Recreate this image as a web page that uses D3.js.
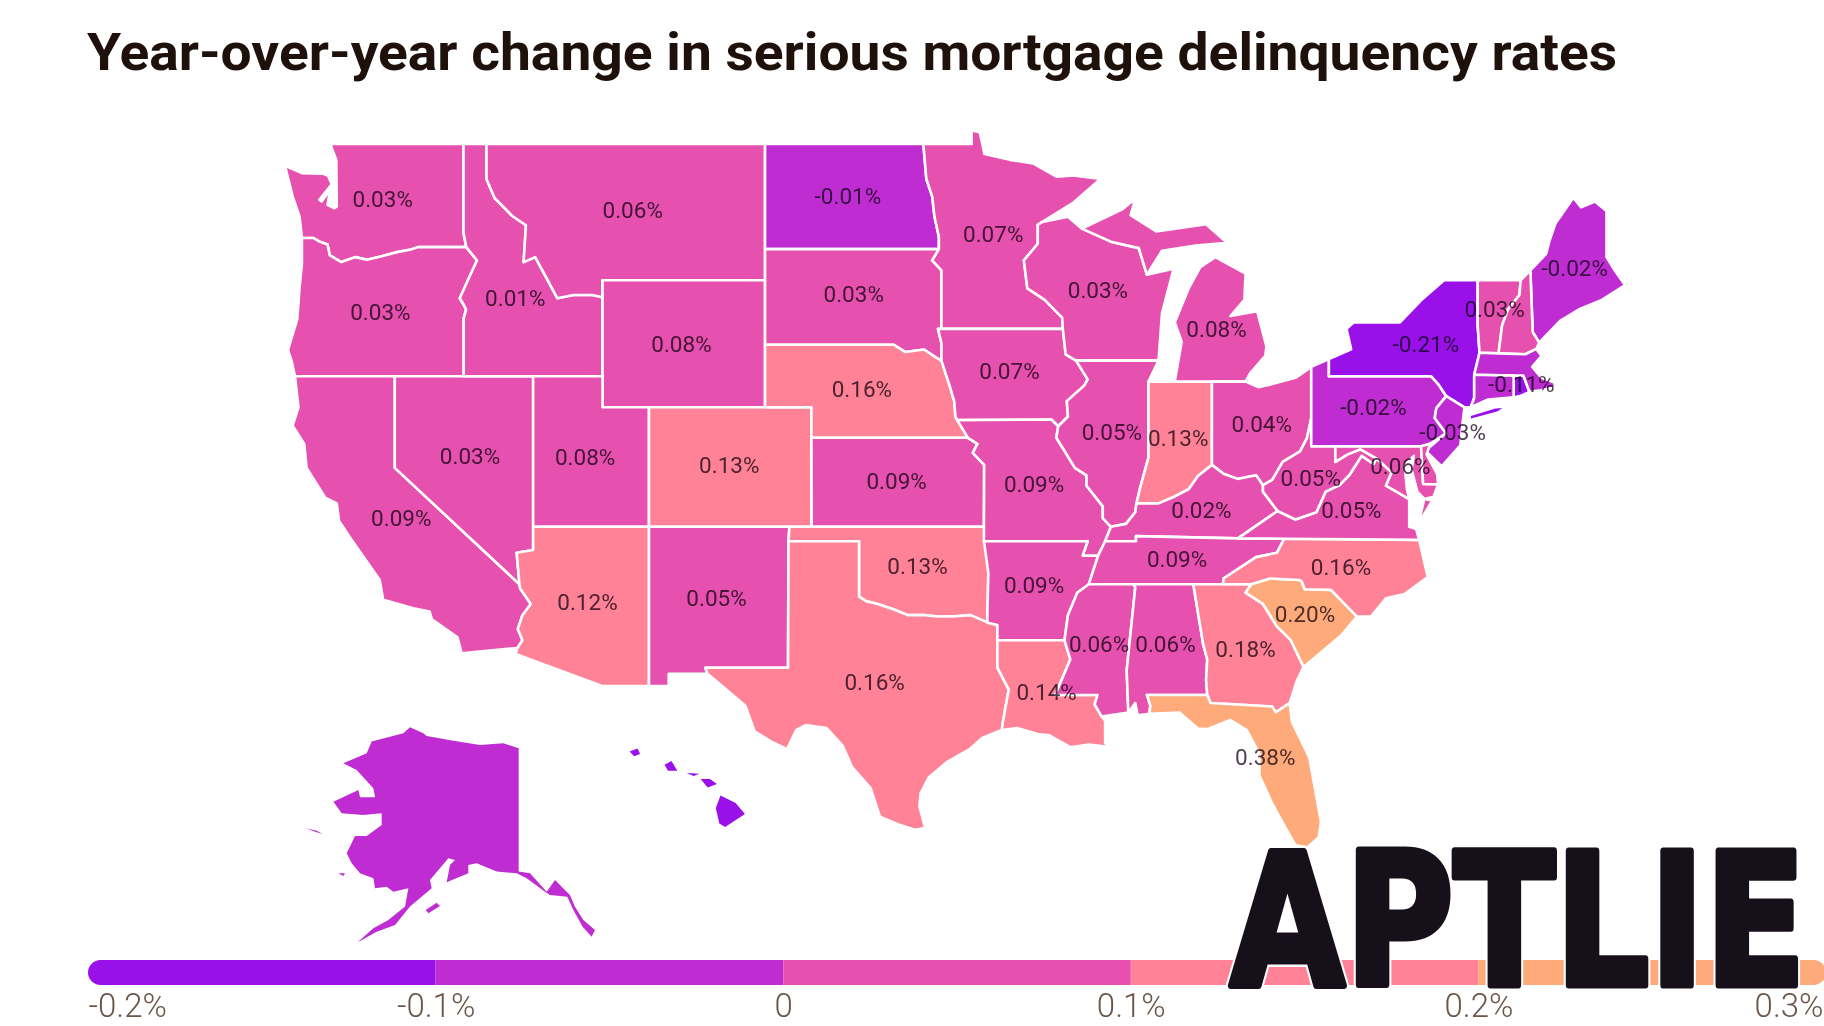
<!DOCTYPE html>
<html>
<head>
<meta charset="utf-8">
<script src="https://cdn.jsdelivr.net/npm/d3@7"></script>
<style>
  html, body { margin: 0; background: #fff; }
  svg { display: block; }
  .state { stroke: #fff; stroke-width: 2.6; stroke-linejoin: round; }
  .inset { stroke: none; }
  .val { font-family: Roboto, sans-serif; font-size: 22.5px; fill: #4e4252; mix-blend-mode: multiply; text-anchor: middle; }
  .legend-axis text { font-family: Roboto, sans-serif; font-weight: 300; font-size: 33px; fill: #6b5548; }
</style>
</head>
<body>
<svg id="chart" width="1824" height="1026"></svg>
<script>
// ---- chart values ----
var title = "Year-over-year change in serious mortgage delinquency rates";
var legendTicks = [-0.2, -0.1, 0, 0.1, 0.2, 0.3];
var classColors = ["#9a10e8", "#bf2dd2", "#e650ae", "#ff8296", "#ffaa7a"];
var watermark = "APTLIE";

var stateCodes = ["WA","OR","CA","NV","ID","MT","WY","UT","CO","AZ","NM","ND","SD","NE","KS","OK","TX",
                  "MN","IA","MO","AR","LA","WI","IL","IN","MI","OH","KY","TN","MS","AL","GA","FL","SC",
                  "NC","VA","WV","MD","PA","NY","NJ","VT","ME","RI","NH","MA","CT","DE","AK","HI"];
var stateValues = [0.03,0.03,0.09,0.03,0.01,0.06,0.08,0.08,0.13,0.12,0.05,-0.01,0.03,0.16,0.09,0.13,0.16,
                   0.07,0.07,0.09,0.09,0.14,0.03,0.05,0.13,0.08,0.04,0.02,0.09,0.06,0.06,0.18,0.38,0.20,
                   0.16,0.05,0.05,0.06,-0.02,-0.21,-0.03,0.03,-0.02,-0.11,0.03,-0.05,-0.05,0.06,-0.05,-0.15];
// states in this list have no printed number in the picture
var unlabelled = ["NH","MA","CT","DE","AK","HI"];

// where each number sits, lon/lat
var labelAnchors = {
  WA:[-120.52,47.43],OR:[-120.62,44.02],CA:[-119.72,37.31],NV:[-116.76,39.41],ID:[-114.81,44.45],
  MT:[-109.75,47.09],WY:[-107.65,43.04],UT:[-111.8,39.37],CO:[-105.59,39.1],AZ:[-111.7,34.39],
  NM:[-106.14,34.51],ND:[-100.48,47.5],SD:[-100.23,44.59],NE:[-99.88,41.58],KS:[-98.38,38.55],
  OK:[-97.48,35.65],TX:[-99.33,31.49],MN:[-94.22,46.4],IA:[-93.52,42.16],MO:[-92.46,38.47],
  AR:[-92.46,34.96],LA:[-91.92,31.11],WI:[-89.71,44.71],IL:[-89.11,40.18],IN:[-86.25,39.99],
  MI:[-84.6,43.51],OH:[-82.65,40.46],KY:[-85.25,37.58],TN:[-86.3,35.9],MS:[-89.66,32.87],
  AL:[-86.8,32.87],GA:[-83.35,32.7],FL:[-82.5,28.69],SC:[-80.79,33.94],NC:[-79.24,35.61],
  VA:[-78.79,37.58],WV:[-80.54,38.67],MD:[-76.68,39.06],PA:[-77.84,41.0],NY:[-75.58,43.04],
  NJ:[-74.43,40.18],VT:[-72.62,44.13],ME:[-69.17,45.37],RI:[-71.47,41.76]
};

// ---- state outlines, lon/lat ----
var columbia = [[-124.0,46.27],[-123.5,46.27],[-123.2,46.15],[-122.9,46.08],[-122.8,45.75],[-122.3,45.55],[-121.7,45.7],[-121.2,45.62],[-120.6,45.72],[-119.9,45.85],[-119.3,45.93],[-119.0,46.0],[-116.92,46.0]];
var snake = [[-116.92,46.0],[-116.46,45.6],[-116.85,45.0],[-117.2,44.45],[-117.03,44.25],[-116.93,44.1],[-117.03,43.83],[-117.03,42.0]];
var bitterroot = [[-116.05,49],[-116.05,48.0],[-115.7,47.45],[-114.95,46.93],[-114.35,46.65],[-114.45,45.55],[-113.95,45.7],[-113.45,45.05],[-113.0,44.45],[-112.3,44.55],[-111.5,44.55],[-111.05,44.48]];
var redRiverN = [[-97.23,49],[-97.1,48],[-96.85,47.5],[-96.75,46.9],[-96.56,46.3],[-96.56,45.94]];
var sdEast = [[-96.56,45.94],[-96.85,45.6],[-96.45,45.3],[-96.45,43.5],[-96.6,43.5],[-96.45,43.05],[-96.45,42.5]];
var sdSouth = [[-104.05,43],[-98.5,43],[-98,42.77],[-97.2,42.85],[-96.7,42.6],[-96.45,42.5]];
var moRiver = [[-96.45,42.5],[-96.1,41.7],[-95.9,41.2],[-95.85,40.7],[-95.77,40.58]];
var redRiverS = [[-100,34.56],[-99.7,34.4],[-99.2,34.3],[-98.5,34.1],[-97.9,33.9],[-97.2,33.9],[-96.6,33.85],[-96,33.85],[-95.2,33.9],[-94.48,33.64]];
var upperMiss = [[-92.3,46.66],[-92.3,46.1],[-92.9,45.6],[-92.75,44.75],[-92,44.4],[-91.25,43.85],[-91.22,43.5],[-91.1,42.7],[-90.65,42.5]];
var iaIl = [[-90.65,42.5],[-90.15,41.9],[-90.3,41.7],[-91.05,41.2],[-91,40.7],[-91.42,40.38]];
var moIl = [[-91.42,40.38],[-91.5,40],[-90.7,39],[-90.2,38.75],[-90.2,38.4],[-89.5,37.7],[-89.5,37.3],[-89.15,37]];
var ohioW = [[-89.15,37],[-88.5,37.1],[-88.1,37.5],[-88.05,37.8]];
var ohioM = [[-88.05,37.8],[-87.1,37.8],[-86.5,38],[-85.8,38.28],[-85.4,38.73],[-84.8,39.1]];
var ohioE = [[-84.8,39.1],[-84.3,38.8],[-83.7,38.63],[-82.9,38.75],[-82.6,38.42]];
var ohioWv = [[-82.6,38.42],[-82.2,38.6],[-81.75,39.2],[-81,39.55],[-80.7,40],[-80.52,40.64]];
var lowerMiss = [[-89.7,36],[-90.1,35],[-90.6,34.7],[-91,33.9],[-91.15,33]];
var msLa = [[-91.15,33],[-90.9,32.3],[-91.55,31],[-89.73,31],[-89.85,30.65],[-89.55,30.2]];
var sabine = [[-94.04,33],[-94.04,32],[-93.55,31.2],[-93.7,30.5],[-93.8,30],[-93.85,29.7]];
var tnSouthEast = [[-84.32,35],[-84.3,35.2],[-82.9,35.95],[-82,36.1],[-81.68,36.59]];
var ncSc = [[-83.1,35],[-82.3,35.2],[-81.04,35.15],[-80.93,35.1],[-80.8,34.82],[-79.67,34.8],[-78.55,33.85]];
var savannah = [[-83.1,35],[-83.35,34.7],[-82.6,34.3],[-82,33.5],[-81.4,33],[-80.85,32.03]];
var gaFlNorth = [[-81.45,30.7],[-82.05,30.36],[-82.2,30.57],[-84.86,30.7],[-85,31]];
var chattahoochee = [[-85,31],[-85.05,31.55],[-85,32.3],[-85.18,32.87],[-85.6,35]];
var bigSandy = [[-82.6,38.42],[-82.6,38.2],[-81.97,37.54]];
var vaWv = [[-81.97,37.54],[-81.2,37.25],[-80.3,37.5],[-79.9,38.2],[-79.3,38.42],[-78.87,38.77],[-78.35,39.4],[-77.83,39.13],[-77.72,39.32]];
var potomacUp = [[-77.72,39.32],[-78.4,39.62],[-78.95,39.45],[-79.48,39.2]];
var potomacLow = [[-76.3,37.95],[-77.3,38.4],[-77.05,38.85],[-77.72,39.32]];
var delaware = [[-74.7,41.36],[-75.13,40.97],[-75.2,40.65],[-74.72,40.15],[-75.4,39.8]];
var nyPa = [[-79.76,42],[-75.35,42],[-75.05,41.75],[-74.7,41.36]];
var ctRiver = [[-71.5,45],[-71.55,44.55],[-72.05,44.1],[-72.3,43.6],[-72.45,42.73]];
function rev(a) { return a.slice().reverse(); }

var stateShapes = {
  WA:[[[-122.78,49],[-117.04,49],[-117.04,46.42]].concat(rev(columbia),[[-124.1,46.9],[-124.4,47.5],[-124.73,48.38],[-124,48.17],[-123.1,48.15],[-122.88,48.1],[-122.72,47.85],[-123.25,47.4],[-123.15,47.35],[-122.78,47.7],[-122.9,47.25],[-122.6,47.15],[-122.5,47.2],[-122.52,48.55]])],
  OR:[columbia.concat(snake.slice(1),[[-124.3,42],[-124.45,42.5],[-124.6,42.84],[-124.2,43.8],[-124.1,44.8],[-124,45.5]])],
  CA:[[[-124.3,42],[-120,42],[-120,39],[-114.63,35],[-114.6,34.85],[-114.14,34.3],[-114.5,33.9],[-114.7,33.4],[-114.5,33],[-114.72,32.72],[-117.12,32.53],[-117.3,33.1],[-118.4,33.75],[-118.5,34.03],[-119.2,34.15],[-120.5,34.45],[-120.65,35.15],[-121.9,36.6],[-122.4,37.2],[-122.5,37.8],[-123,38],[-123.8,39],[-123.9,39.8],[-124.4,40.4],[-124.15,41]]],
  NV:[[[-120,42],[-114.04,42],[-114.04,36.2],[-114.75,36.1],[-114.63,35],[-120,39]]],
  ID:[[[-117.04,49]].concat(bitterroot,[[-111.05,42]],rev(snake),[[-117.04,46.42]])],
  MT:[[[-116.05,49],[-104.05,49],[-104.05,45],[-111.05,45]].concat(rev(bitterroot).slice(0,-1))],
  WY:[[[-111.05,45],[-104.05,45],[-104.05,41],[-111.05,41]]],
  UT:[[[-114.04,42],[-111.05,42],[-111.05,41],[-109.05,41],[-109.05,37],[-114.04,37]]],
  CO:[[[-109.05,41],[-102.05,41],[-102.05,37],[-109.05,37]]],
  AZ:[[[-114.04,37],[-109.05,37],[-109.05,31.33],[-111.07,31.33],[-114.8,32.5],[-114.72,32.72],[-114.5,33],[-114.7,33.4],[-114.5,33.9],[-114.14,34.3],[-114.6,34.85],[-114.63,35],[-114.75,36.1],[-114.04,36.2]]],
  NM:[[[-109.05,37],[-103,37],[-103.04,36.5],[-103.06,32],[-106.62,32],[-106.53,31.78],[-108.2,31.78],[-108.2,31.33],[-109.05,31.33]]],
  ND:[[[-104.05,49]].concat(redRiverN,[[-104.05,45.94]])],
  SD:[[[-104.05,45.94]].concat(sdEast,rev(sdSouth))],
  NE:[sdSouth.concat(moRiver.slice(1),[[-95.31,40],[-102.05,40],[-102.05,41],[-104.05,41]])],
  KS:[[[-102.05,40],[-95.31,40],[-94.9,39.8],[-95.1,39.5],[-94.61,39.1],[-94.62,37],[-102.04,37]]],
  OK:[[[-103,37],[-94.62,37],[-94.43,35.4]].concat(rev(redRiverS),[[-100,36.5],[-103.04,36.5]])],
  TX:[[[-103.04,36.5],[-100,36.5]].concat(redRiverS,[[-94.04,33.55]],sabine,[[-94.7,29.4],[-95.2,29],[-96.2,28.5],[-97,27.9],[-97.35,27.3],[-97.4,26.8],[-97.15,25.96],[-97.6,25.9],[-98.3,26.1],[-99.1,26.4],[-99.5,27.5],[-100.3,28.3],[-100.7,29.1],[-101.4,29.77],[-102.3,29.88],[-102.7,29.7],[-103.1,28.98],[-103.8,29.27],[-104.5,29.65],[-104.9,30.6],[-106,31.4],[-106.53,31.78],[-106.62,32],[-103.06,32]])],
  MN:[[[-97.23,49],[-95.15,49],[-95.15,49.38],[-94.8,49.33],[-94.6,48.72],[-93.5,48.55],[-92.5,48.45],[-91.5,48.07],[-90.75,48.1],[-89.6,48],[-90.8,47.3],[-92.1,46.75]].concat(upperMiss.slice(0,7),[[-96.45,43.5],[-96.45,45.3],[-96.85,45.6]],[[-96.56,45.94]],rev(redRiverN).slice(1,-1))],
  IA:[[[-96.45,43.5],[-91.22,43.5],[-91.1,42.7]].concat(iaIl,[[-91.72,40.6],[-95.77,40.58]],rev(moRiver).slice(1),[[-96.45,43.05],[-96.6,43.5]])],
  MO:[[[-95.77,40.58],[-91.72,40.6]].concat(moIl,[[-89.4,36.5],[-89.7,36],[-90.37,36],[-90.15,36.5],[-94.62,36.5],[-94.62,37],[-94.61,39.1],[-95.1,39.5],[-94.9,39.8],[-95.31,40]])],
  AR:[[[-94.62,36.5],[-90.15,36.5],[-90.37,36]].concat(lowerMiss,[[-94.04,33],[-94.04,33.55],[-94.48,33.64],[-94.43,35.4]])],
  LA:[[[-94.04,33]].concat(msLa,[[-89.4,30.05],[-89.4,29.75],[-89.4,29.2],[-89.1,29.05],[-90.1,29.15],[-90.9,29.05],[-91.8,29.5],[-92.3,29.55],[-93.2,29.77]],rev(sabine).slice(0,-1))],
  WI:[[[-92.1,46.75],[-91,46.9],[-90.4,46.55],[-89.1,46.15],[-87.95,45.97],[-87.6,45.17],[-86.45,45.35],[-86.95,43.98],[-87.1,42.5]].concat(rev(upperMiss))],
  IL:[[[-90.65,42.5],[-87.1,42.5],[-87.53,41.83],[-87.53,39.35],[-87.9,38.3]].concat(rev(ohioW),rev(moIl).slice(1),rev(iaIl).slice(1))],
  IN:[[[-87.53,41.83],[-84.8,41.83]].concat(rev(ohioM),[[-87.9,38.3],[-87.53,39.35]])],
  MI:[[[-86.4,41.83],[-84.8,41.83],[-83.35,41.83],[-83.15,42.1],[-82.5,42.65],[-82.45,42.95],[-82.85,44.05],[-84,43.9],[-83.4,44.4],[-83.35,45.2],[-84.65,45.7],[-85.3,45.4],[-85.8,44.75],[-86.4,43.7],[-86.1,43.1]],
      [[-90.4,46.55],[-88.66,47.12],[-88.1,47.43],[-88.3,46.95],[-87.2,46.47],[-85.05,46.68],[-84.15,46.13],[-85.5,46.05],[-86.95,45.89],[-87.6,45.17],[-87.95,45.97],[-89.1,46.15]],
      [[-89.3,47.85],[-88.4,48.15],[-88.5,48.2],[-89.2,47.95]]],
  OH:[[[-84.8,41.83],[-83.35,41.83],[-82.8,41.65],[-82.2,41.75],[-81.2,41.95],[-80.52,42.3],[-80.52,40.64]].concat(rev(ohioWv).slice(1),rev(ohioE))],
  KY:[[[-89.4,36.5],[-89.15,37]].concat(ohioW.slice(1),ohioM.slice(1),ohioE.slice(1),bigSandy.slice(1),[[-83.68,36.6],[-88.07,36.68],[-88.07,36.5]])],
  TN:[[[-90.1,35],[-89.7,36],[-89.4,36.5],[-88.07,36.5],[-88.07,36.68],[-83.68,36.6]].concat(rev(tnSouthEast))],
  MS:[[[-90.1,35],[-88.2,35],[-88.1,34.9],[-88.47,31.9],[-88.4,30.35]].concat(rev(msLa),rev(lowerMiss).slice(1,-1))],
  AL:[[[-88.2,35],[-85.6,35]].concat(rev(chattahoochee).slice(1),[[-87.6,31],[-87.45,30.6],[-87.5,30.3],[-88,30.25],[-88.1,30.7],[-88.4,30.35],[-88.47,31.9],[-88.1,34.9]])],
  GA:[[[-85.6,35],[-84.32,35]].concat(savannah,[[-81.15,31.5]],gaFlNorth,chattahoochee.slice(1,-1))],
  FL:[[[-87.6,31]].concat(rev(gaFlNorth),[[-81.35,30],[-80.9,29.2],[-80.6,28.65],[-80.1,26.2],[-80.2,25.6],[-80.7,25.2],[-81.2,25.3],[-81.6,25.93],[-82.2,26.9],[-82.75,27.98],[-82.75,28.8],[-83.3,29.69],[-84,30.07],[-85,29.73],[-85.4,29.75],[-86.2,30.35],[-87.5,30.3],[-87.45,30.6]])],
  SC:[ncSc.concat([[-79.2,33.2],[-79.9,32.7]],rev(savannah).slice(0,-1))],
  NC:[tnSouthEast.concat([[-75.87,36.55],[-75.5,35.25],[-76.5,34.65],[-77.3,34.5],[-77.95,33.85]],rev(ncSc),[[-84.32,35]])],
  VA:[[[-83.68,36.6]].concat(vaWv,rev(potomacLow).slice(1),[[-76.3,37],[-76,36.92],[-75.87,36.55],[-81.68,36.59]]),[[-75.9,37.12],[-75.3,37.9],[-75.65,37.95]]],
  WV:[bigSandy.concat(vaWv.slice(1),potomacUp.slice(1),[[-79.48,39.72],[-80.52,39.72],[-80.52,40.64]],rev(ohioWv).slice(1,-1))],
  MD:[[[-79.48,39.72],[-75.79,39.72],[-75.7,38.46],[-75.05,38.45],[-75.25,38.03],[-75.65,37.95],[-75.95,38.2],[-76.2,38.95],[-76.1,39.4],[-76.5,39.1],[-76.4,38.3]].concat(potomacLow,potomacUp.slice(1))],
  PA:[[[-80.52,42.3],[-79.76,42.55]].concat(nyPa,delaware.slice(1),[[-75.79,39.72],[-80.52,39.72]])],
  NY:[[[-79.76,42.55],[-78.8,42.86],[-79,43.5],[-78.7,43.7],[-76.7,43.7],[-75.8,44.38],[-74.8,45],[-73.35,45],[-73.35,43.6],[-73.27,42.75],[-73.5,42.05],[-73.5,41.3],[-73.65,41],[-73.92,41]].concat(rev(nyPa)),
      [[-73.7,40.75],[-72.6,41],[-72.05,41.03],[-72.5,40.82],[-73.7,40.58]]],
  NJ:[[[-74.7,41.36],[-73.92,41],[-74,40.5],[-74.1,39.75],[-74.9,39.05],[-75.5,39.5],[-75.55,39.6],[-74.72,40.15],[-75.2,40.65],[-75.13,40.97]]],
  DE:[[[-75.79,39.72],[-75.4,39.8],[-75.55,39.45],[-75.1,38.8],[-75.05,38.45],[-75.7,38.46]]],
  CT:[[[-73.5,42.05],[-71.8,42.02],[-71.8,41.32],[-72.9,41.25],[-73.65,41],[-73.5,41.3]]],
  RI:[[[-71.8,42.02],[-71.38,42.02],[-71.12,41.5],[-71.5,41.37],[-71.8,41.32]]],
  MA:[[[-73.5,42.05],[-73.27,42.75],[-72.45,42.73],[-71.3,42.7],[-70.82,42.87],[-70.6,42.65],[-71,42.3],[-70.6,41.95],[-70.05,41.8],[-70,41.65],[-70.65,41.55],[-71.12,41.5],[-71.38,42.02],[-71.8,42.02]]],
  VT:[[[-73.35,45]].concat(ctRiver,[[-73.27,42.75],[-73.35,43.6]])],
  NH:[ctRiver.concat([[-71.3,42.7],[-70.82,42.87],[-70.7,43.07],[-70.98,43.4],[-71.08,45.3]])],
  ME:[[[-71.08,45.3],[-70.4,45.8],[-70.25,46.2],[-70,46.7],[-69.23,47.46],[-68.9,47.18],[-68.3,47.35],[-67.8,47.07],[-67.8,45.7],[-67.45,45.3],[-67,44.85],[-68,44.4],[-69,44.1],[-69.8,43.75],[-70.7,43.07],[-70.98,43.4]]],
  AK:[[[-141,69.65],[-141,60.31],[-139.34,60.18],[-136.9,58.79],[-135.68,59.68],[-133.49,58.54],[-132.76,57.65],[-131.54,56.65],[-129.83,55.89],[-130.32,55.38],[-131.63,56.14],[-133,57.4],[-133.88,58.41],[-136.41,58.54],[-137.15,58.79],[-139.83,59.8],[-141.29,60.18],[-144.22,60.31],[-147.15,60.94],[-148.37,60.81],[-148.37,60.18],[-151.54,59.5],[-151.05,60.81],[-150.32,61.19],[-151.29,61.32],[-153.98,59.68],[-153.73,59.04],[-156.9,57.66],[-159.1,56.27],[-161.78,55.76],[-164.61,54.93],[-162.27,56.01],[-160.07,56.65],[-157.63,57.66],[-157.15,59.04],[-159.34,58.79],[-160.32,59.17],[-162.02,59.04],[-162.27,59.8],[-164.22,60.18],[-165.44,60.94],[-166.17,61.7],[-164.95,63.01],[-163.24,63.01],[-161.05,63.84],[-161.05,64.73],[-163.73,64.6],[-166.9,64.73],[-168.12,65.61],[-164.46,66.49],[-164.22,65.94],[-162.02,65.94],[-162.27,66.62],[-164.71,68.01],[-166.66,68.51],[-163.24,69.27],[-162.51,70.16],[-157.88,70.79],[-156.9,71.24],[-154.95,70.79],[-154.46,70.58],[-150.56,70.23],[-146.66,69.9],[-143.24,70.03]],
      [[-154.61,57.4],[-153,57.96],[-152.51,57.7],[-154.22,57.15]],
      [[-172.12,63.59],[-170.56,63.41],[-169.68,63.16],[-170.8,63.33]],
      [[-167.39,60.18],[-166.41,60.18],[-166.66,59.98]]],
  HI:[[[-155.85,20.27],[-155.2,19.95],[-154.8,19.5],[-155.65,18.95],[-155.9,19.1],[-156.05,19.75]],
      [[-156.7,20.95],[-156.3,20.95],[-156,20.75],[-156.4,20.6]],
      [[-157.3,21.2],[-156.75,21.17],[-157,21.08]],
      [[-158.25,21.55],[-157.95,21.7],[-157.7,21.3],[-158.1,21.3]],
      [[-159.75,22.1],[-159.4,22.22],[-159.3,22],[-159.55,21.9]]]
};

// ---- drawing ----
var svg = d3.select("#chart");

svg.append("text")
  .attr("x", 87).attr("y", 70)
  .attr("font-family", "Roboto, sans-serif")
  .attr("font-weight", 700)
  .attr("font-size", 52)
  .attr("fill", "#1e100a")
  .attr("textLength", 1530)
  .attr("lengthAdjust", "spacingAndGlyphs")
  .text(title);

// lower 48: plain mercator, AK and HI are squeezed insets on their own scales
var mainProj = d3.geoMercator().scale(1330).center([-124.73, 49]).translate([285, 144]);
var akX = d3.scaleLinear().domain([-168, -141]).range([334.2, 518.67]);
var akY = d3.scaleLinear().domain([71, 60]).range([730.5, 875.7]);
var hiX = d3.scaleLinear().domain([-160, -155]).range([623.7, 740.3]);
var hiY = d3.scaleLinear().domain([23, 19]).range([729.9, 825.9]);

function planar(fn) {
  return d3.geoPath(d3.geoTransform({
    point: function (lon, lat) { var p = fn(lon, lat); this.stream.point(p[0], p[1]); }
  }));
}
var mainPath = planar(function (lon, lat) { return mainProj([lon, lat]); });
var akPath = planar(function (lon, lat) { return [akX(lon), akY(lat)]; });
var hiPath = planar(function (lon, lat) { return [hiX(lon), hiY(lat)]; });

var color = d3.scaleThreshold().domain([-0.1, 0, 0.1, 0.2]).range(classColors);

var rows = stateCodes.map(function (code, i) {
  return { code: code, value: stateValues[i] };
});

function shapeOf(code) {
  return { type: "MultiPolygon", coordinates: stateShapes[code].map(function (ring) {
    return [ring.concat([ring[0]])];
  }) };
}

var map = svg.append("g").attr("class", "map");
map.selectAll("path")
  .data(rows)
  .enter()
  .append("path")
  .attr("class", function (d) { return d.code == "AK" || d.code == "HI" ? "inset" : "state"; })
  .attr("fill", function (d) { return color(d.value); })
  .attr("d", function (d) {
    var path = d.code == "AK" ? akPath : d.code == "HI" ? hiPath : mainPath;
    return path(shapeOf(d.code));
  });

// numbers
svg.append("g").selectAll("text")
  .data(rows.filter(function (d) { return unlabelled.indexOf(d.code) < 0; }))
  .enter()
  .append("text")
  .attr("class", "val")
  .attr("x", function (d) { return mainProj(labelAnchors[d.code])[0]; })
  .attr("y", function (d) { return mainProj(labelAnchors[d.code])[1]; })
  .attr("dy", "0.36em")
  .text(function (d) { return d.value.toFixed(2) + "%"; });

// legend
var legendX = d3.scaleLinear().domain([-0.2, 0.3]).range([88, 1826]);
var defs = svg.append("defs");
defs.append("clipPath").attr("id", "legendClip").append("rect")
  .attr("x", legendX.range()[0]).attr("y", 960)
  .attr("width", legendX.range()[1] - legendX.range()[0]).attr("height", 25)
  .attr("rx", 12.5);

svg.append("g").attr("clip-path", "url(#legendClip)")
  .selectAll("rect")
  .data(classColors)
  .enter()
  .append("rect")
  .attr("x", function (d, i) { return legendX(legendTicks[i]); })
  .attr("y", 960)
  .attr("width", function (d, i) { return legendX(legendTicks[i + 1]) - legendX(legendTicks[i]); })
  .attr("height", 25)
  .attr("fill", function (d) { return d; });

var legendAxis = d3.axisBottom(legendX)
  .tickValues(legendTicks)
  .tickSize(0)
  .tickPadding(0)
  .tickFormat(function (d) { return d === 0 ? "0" : d3.format(".1f")(d).replace("−", "-") + "%"; });

var axisG = svg.append("g")
  .attr("class", "legend-axis")
  .attr("transform", "translate(0,994)")
  .call(legendAxis);
axisG.select(".domain").remove();
axisG.selectAll("text")
  .attr("font-family", null).attr("font-size", null)
  .attr("dx", function (d, i) { return i == legendTicks.length - 1 ? -3 : 0; })
  .style("text-anchor", function (d, i) { return i == 0 ? "start" : i == legendTicks.length - 1 ? "end" : "middle"; });

// watermark on top of everything, white halo underneath
var mark = svg.append("g").attr("transform", "translate(1230,985) scale(0.807,1)");
[["#fff", 12], ["#15101a", 7]].forEach(function (s) {
  mark.append("text")
    .attr("font-family", "DejaVu Sans")
    .attr("font-weight", 700)
    .attr("font-size", 184)
    .attr("fill", "#15101a")
    .attr("stroke", s[0])
    .attr("stroke-width", s[1])
    .attr("stroke-linejoin", "round")
    .text(watermark);
});
</script>
</body>
</html>
